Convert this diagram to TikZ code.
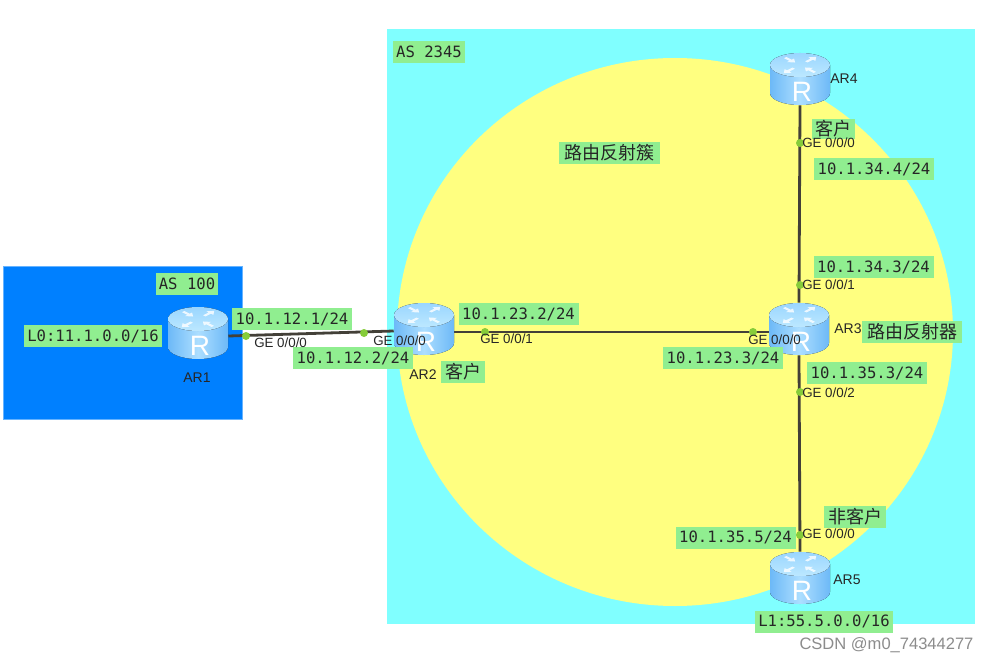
\documentclass[tikz,border=0pt]{standalone}
\usepackage{fontspec}
\setmainfont{Liberation Sans}
\newfontfamily\cjk{Noto Sans CJK SC}
\newfontfamily\monof{DejaVu Sans Mono}
\usetikzlibrary{calc}
\definecolor{tagc}{HTML}{90EE90}
\definecolor{asblue}{HTML}{0080FF}
\definecolor{asedge}{HTML}{66B3FF}
\definecolor{ascyan}{HTML}{80FFFF}
\definecolor{rrc}{HTML}{FFFF80}
\definecolor{dotc}{HTML}{86CC3A}
\definecolor{cyl1}{HTML}{6DB9F7}
\definecolor{cyl2}{HTML}{ACDEFF}
\definecolor{top1}{HTML}{9AD6FF}
\definecolor{top2}{HTML}{BCE8FF}
\tikzset{
  x=0.75pt,y=-0.75pt,
  link/.style={line width=2.1pt,draw=black!85!yellow},
  portdot/.style={circle,fill=dotc,inner sep=0pt,minimum size=6pt},
  port/.style={font=\fontsize{10}{10}\selectfont,inner sep=0pt,text=black!85,anchor=west},
  arname/.style={font=\fontsize{10.5}{10.5}\selectfont,inner sep=0pt,text=black!85},
  tagbase/.style={fill=tagc,inner sep=0pt,text=black!85,minimum height=16.5pt},
  mono/.style={tagbase,font=\monof\fontsize{11.7}{12}\selectfont},
  han/.style={tagbase,font=\cjk\fontsize{13.5}{14}\selectfont},
  routerbox/.style={inner sep=0pt,minimum width=45pt,minimum height=39pt},
  rletter/.style={white,font=\fontsize{21}{21}\selectfont,inner sep=0pt},
}
\newcommand{\routerart}[1]{%
  \begin{scope}[shift={(#1.center)}]
    \fill[left color=cyl1,right color=cyl1,middle color=cyl2]
      (-30,-14) -- (30,-14) -- (30,14) arc[start angle=0,end angle=180,x radius=30,y radius=12] -- cycle;
    \fill[top color=top1,bottom color=top2] (0,-14) ellipse[x radius=30,y radius=12];
    \foreach \a/\tipr/\tailr in {45/23/9,135/7/21,225/23/9,315/7/21}{
      \begin{scope}[shift={(0,-14)},yscale=.5,rotate=\a]
        \pgfmathsetmacro{\neckr}{\tipr+(\tailr-\tipr)*.45}
        \fill[white,opacity=.8] (\tailr,-1.7) -- (\neckr,-1.7) -- (\neckr,-5) -- (\tipr,0) -- (\neckr,5) -- (\neckr,1.7) -- (\tailr,1.7) -- cycle;
      \end{scope}}
    \node[rletter] at (2,13) {R};
  \end{scope}}
\begin{document}
\begin{tikzpicture}
\useasboundingbox (0,0) rectangle (989,663);
\fill[white] (0,0) rectangle (989,663);
\fill[asblue,draw=asedge,line width=.5pt] (3,266) rectangle (242,419);
\fill[ascyan] (387,29) rectangle (975,624);
\fill[rrc] (675,332) ellipse[x radius=278,y radius=274];

\node[routerbox] (r1) at (198,333) {};
\node[routerbox] (r2) at (424,329) {};
\node[routerbox] (r3) at (799,329) {};
\node[routerbox] (r4) at (800,79) {};
\node[routerbox] (r5) at (800,578) {};

\coordinate (e1) at ($(r1.east)+(0,3)$);
\coordinate (w2) at ($(r2.west)+(0,2)$);
\coordinate (e2) at ($(r2.east)+(0,3)$);
\coordinate (w3) at ($(r3.west)+(0,3)$);
\draw[link] (e1) -- (w2);
\draw[link] (e2) -- (w3);
\draw[link] (r4.south) -- (r3.north);
\draw[link] (r3.south) -- (r5.north);

\routerart{r1}
\routerart{r2}
\routerart{r3}
\routerart{r4}
\routerart{r5}

\node[portdot] (d1) at (246,336) {};
\node[portdot] (d2) at (364,333) {};
\node[portdot] (d3) at (485,332) {};
\node[portdot] (d4) at (753,332) {};
\node[portdot] (d5) at (800,143) {};
\node[portdot] (d6) at (800,285) {};
\node[portdot] (d7) at (800,392) {};
\node[portdot] (d8) at (800,535) {};

\node[mono,minimum width=46.5pt] (t1) at (187,284) {AS 100};
\node[mono,minimum width=54pt] (t2) at (429,52) {AS 2345};
\node[mono,minimum width=103.5pt] (t3) at (93,336) {L0:11.1.0.0/16};
\node[mono,minimum width=90pt] (t4) at (292,319) {10.1.12.1/24};
\node[mono,minimum width=90pt] (t5) at (353,358) {10.1.12.2/24};
\node[mono,minimum width=90pt] (t6) at (518.5,314) {10.1.23.2/24};
\node[mono,minimum width=90pt] (t7) at (723,358) {10.1.23.3/24};
\node[mono,minimum width=90pt] (t8) at (874,169) {10.1.34.4/24};
\node[mono,minimum width=90pt] (t9) at (873.5,267) {10.1.34.3/24};
\node[mono,minimum width=90pt] (t10) at (867,373) {10.1.35.3/24};
\node[mono,minimum width=90pt] (t11) at (735.5,537.5) {10.1.35.5/24};
\node[mono,minimum width=103.5pt] (t12) at (824,621.5) {L1:55.5.0.0/16};
\node[han,minimum width=76pt] (t13) at (609.5,153) {路由反射簇};
\node[han,minimum width=32pt,minimum height=15pt] (t14) at (833.5,129) {客户};
\node[han,minimum width=75pt] (t15) at (912,332) {路由反射器};
\node[han,minimum width=46.5pt] (t16) at (855,517) {非客户};
\node[han,minimum width=33pt] (t17) at (463,371.5) {客户};

\node[arname] (n1) at (197,378) {AR1};
\node[arname] (n2) at (423,375) {AR2};
\node[arname] (n3) at (848,329) {AR3};
\node[arname] (n4) at (844,79) {AR4};
\node[arname] (n5) at (847,580) {AR5};

\node[port] (p1) at (254,343) {GE 0/0/0};
\node[port] (p2) at (373,340.5) {GE 0/0/0};
\node[port] (p3) at (480,339) {GE 0/0/1};
\node[port] (p4) at (748,339.5) {GE 0/0/0};
\node[port] (p5) at (802,143) {GE 0/0/0};
\node[port] (p6) at (802,284.5) {GE 0/0/1};
\node[port] (p7) at (802,393) {GE 0/0/2};
\node[port] (p8) at (802,534) {GE 0/0/0};

\node[font=\fontsize{12.4}{13}\selectfont,text=black!45,inner sep=0pt] (wm) at (886.5,645) {CSDN @m0\_74344277};
\end{tikzpicture}
\end{document}
